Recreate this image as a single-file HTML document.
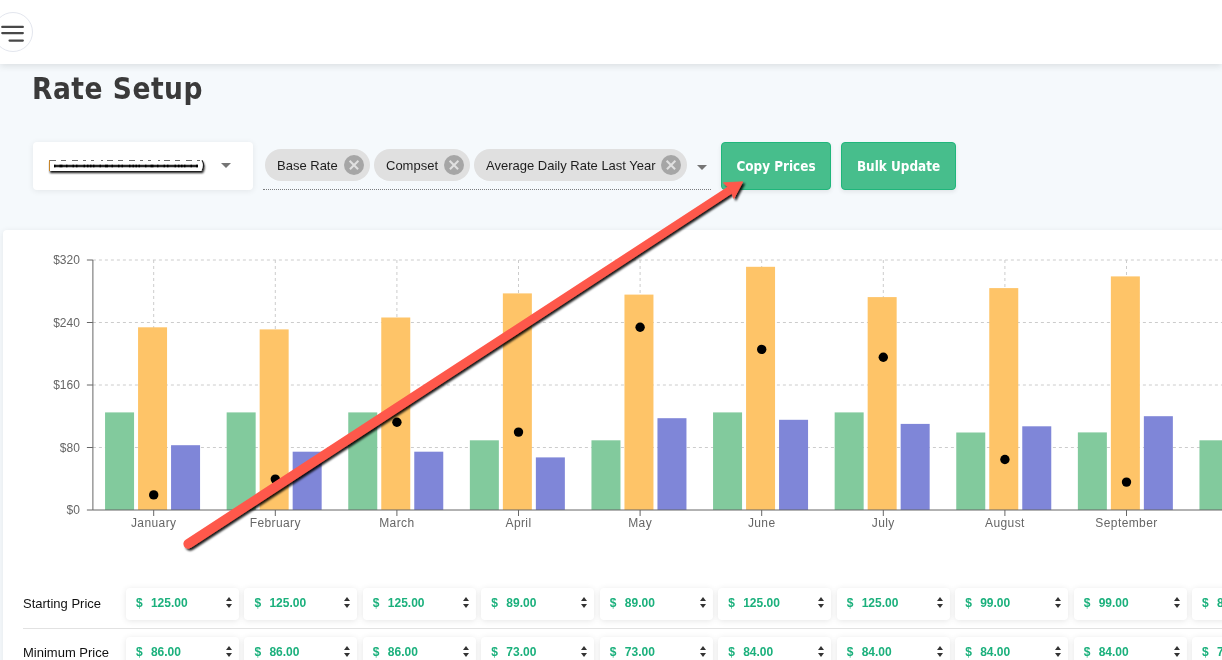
<!DOCTYPE html>
<html><head><meta charset="utf-8"><title>Rate Setup</title>
<style>
*{box-sizing:border-box;margin:0;padding:0}
html,body{width:1222px;height:660px;overflow:hidden}
body{background:#f5f9fc;font-family:"Liberation Sans",Arial,sans-serif;position:relative}
.hdr{position:absolute;left:0;top:0;width:1222px;height:64px;background:#fff;box-shadow:0 2px 7px rgba(0,0,0,0.11);z-index:2}
.burger{position:absolute;left:-7px;top:12px;width:40px;height:40px;border:1px solid #e3e6ee;border-radius:50%}
h1{position:absolute;left:32px;top:68.5px;font-family:"DejaVu Sans Condensed","DejaVu Sans",sans-serif;font-weight:bold;font-size:29.5px;line-height:40px;color:#3a3a3a;letter-spacing:0.5px}
.sel{position:absolute;left:33px;top:142px;width:220px;height:48px;background:#fff;border-radius:4px;box-shadow:0 1px 6px rgba(0,0,0,0.08)}
.caret{position:absolute;width:0;height:0;border-left:5px solid transparent;border-right:5px solid transparent;border-top:5px solid #757575}
.uline{position:absolute;left:263px;top:189px;width:448px;height:0;border-bottom:1px dotted rgba(0,0,0,0.5)}
.chip{position:absolute;top:149px;height:32px;border-radius:16px;background:#e0e0e0;font-size:13px;color:rgba(0,0,0,0.87);line-height:33px;padding-left:12px}
.chip .x{position:absolute;top:6px;width:20px;height:20px;border-radius:50%;background:#a6a6a6}
.chip .x:before,.chip .x:after{content:"";position:absolute;left:4px;top:9.2px;width:12px;height:1.6px;background:#e0e0e0;transform:rotate(45deg)}
.chip .x:after{transform:rotate(-45deg)}
.btn{position:absolute;top:142px;height:48px;background:#47be8c;border:1px solid #1fb67b;border-radius:4px;color:#fff;font-family:"DejaVu Sans Condensed","DejaVu Sans",sans-serif;font-weight:bold;font-size:13.4px;line-height:48.4px;text-align:center;box-shadow:0 2px 4px rgba(0,0,0,0.08)}
.card{position:absolute;left:3px;top:230px;width:1300px;height:500px;background:#fff;border-radius:4px;box-shadow:0 1px 6px rgba(0,0,0,0.08)}
.chart{position:absolute;left:0;top:0}
.tk{font-family:"Liberation Sans",sans-serif;font-size:12px;fill:#666}
.lbl{position:absolute;left:23px;font-size:13px;color:#111}
.hr{position:absolute;left:23px;top:628px;width:1300px;height:1px;background:#e2e2e2}
.inp{position:absolute;width:113px;height:32px;background:#fff;border-radius:4px;box-shadow:0 1px 6px rgba(0,0,0,0.10)}
.inp .cur{position:absolute;left:10px;top:8.5px;font-weight:bold;font-size:12px;color:#1bb07c;line-height:12px}
.inp .val{position:absolute;left:25px;top:8.5px;font-weight:bold;font-size:12px;color:#1bb07c;line-height:12px}
.spin{position:absolute;left:100px;top:8.5px;width:7px;height:14px}
.spin .up{position:absolute;left:0;top:0;border-left:3.5px solid transparent;border-right:3.5px solid transparent;border-bottom:4px solid #333}
.spin .dn{position:absolute;left:0;top:7px;border-left:3.5px solid transparent;border-right:3.5px solid transparent;border-top:4px solid #333}
.arrow{position:absolute;left:0;top:0;z-index:5}
</style></head>
<body>
<div class="hdr">
  <div class="burger"></div><svg style="position:absolute;left:0;top:0" width="40" height="60"><g stroke="#484848" stroke-width="2.1" stroke-linecap="round"><line x1="2.2" y1="26.9" x2="22.9" y2="26.9"/><line x1="2.2" y1="33.1" x2="22.9" y2="33.1"/><line x1="9.5" y1="40.6" x2="22.9" y2="40.6"/></g></svg>
</div>
<h1>Rate Setup</h1>
<div class="sel"><div class="caret" style="left:188px;top:21px"></div></div>
<svg style="position:absolute;left:0;top:0" width="260" height="200"><defs><filter id="rs" x="-5%" y="-50%" width="110%" height="200%"><feGaussianBlur in="SourceAlpha" stdDeviation="1"/><feOffset dx="0.6" dy="2.4"/><feComponentTransfer><feFuncA type="linear" slope="0.95"/></feComponentTransfer><feMerge><feMergeNode/><feMergeNode in="SourceGraphic"/></feMerge></filter></defs>
<g filter="url(#rs)"><path d="M49 160 H202 Q205 165.5 202 171 H49 Z" fill="#fff"/></g>
<path d="M202 160.3 Q205.2 165.5 202 170.8" fill="none" stroke="#222" stroke-width="1.2"/>
<line x1="50" y1="160.5" x2="202" y2="160.5" stroke="#3a3a3a" stroke-width="1" stroke-dasharray="6 5 5 6 6 5 3 5 3 7 2 4" opacity="0.75"/>
<line x1="54" y1="166" x2="198" y2="166" stroke="#262626" stroke-width="2.3"/><line x1="54" y1="166" x2="198" y2="166" stroke="#000" stroke-width="2.6" stroke-dasharray="1.5 4 3 3.5 1.5 5 1.5 2 1.5 6 1.5 2 1.5 1.5 1.5 1.5 1.5 5"/>
<line x1="49.5" y1="160" x2="49.5" y2="171" stroke="#c8862a" stroke-width="1"/>
</svg>
<div class="chip" style="left:265px;width:105px">Base Rate<span class="x" style="left:79px"></span></div>
<div class="chip" style="left:374px;width:96px">Compset<span class="x" style="left:70px"></span></div>
<div class="chip" style="left:474px;width:213px">Average Daily Rate Last Year<span class="x" style="left:187px"></span></div>
<div class="caret" style="left:697px;top:165px"></div>
<div class="uline"></div>
<div class="btn" style="left:721px;width:110px">Copy Prices</div>
<div class="btn" style="left:841px;width:115px">Bulk Update</div>
<div class="card"></div>
<svg class="chart" width="1222" height="660" viewBox="0 0 1222 660">
<line x1="92.9" y1="447.5" x2="1222" y2="447.5" stroke="#ccc" stroke-dasharray="3 3"/>
<line x1="92.9" y1="385.0" x2="1222" y2="385.0" stroke="#ccc" stroke-dasharray="3 3"/>
<line x1="92.9" y1="322.5" x2="1222" y2="322.5" stroke="#ccc" stroke-dasharray="3 3"/>
<line x1="92.9" y1="260.0" x2="1222" y2="260.0" stroke="#ccc" stroke-dasharray="3 3"/>
<line x1="153.7" y1="260.0" x2="153.7" y2="510.0" stroke="#ccc" stroke-dasharray="3 3"/>
<line x1="275.29999999999995" y1="260.0" x2="275.29999999999995" y2="510.0" stroke="#ccc" stroke-dasharray="3 3"/>
<line x1="396.9" y1="260.0" x2="396.9" y2="510.0" stroke="#ccc" stroke-dasharray="3 3"/>
<line x1="518.5" y1="260.0" x2="518.5" y2="510.0" stroke="#ccc" stroke-dasharray="3 3"/>
<line x1="640.0999999999999" y1="260.0" x2="640.0999999999999" y2="510.0" stroke="#ccc" stroke-dasharray="3 3"/>
<line x1="761.6999999999999" y1="260.0" x2="761.6999999999999" y2="510.0" stroke="#ccc" stroke-dasharray="3 3"/>
<line x1="883.3" y1="260.0" x2="883.3" y2="510.0" stroke="#ccc" stroke-dasharray="3 3"/>
<line x1="1004.9" y1="260.0" x2="1004.9" y2="510.0" stroke="#ccc" stroke-dasharray="3 3"/>
<line x1="1126.5" y1="260.0" x2="1126.5" y2="510.0" stroke="#ccc" stroke-dasharray="3 3"/>
<line x1="1248.1000000000001" y1="260.0" x2="1248.1000000000001" y2="510.0" stroke="#ccc" stroke-dasharray="3 3"/>
<rect x="105.06" y="412.4" width="29" height="97.60" fill="#82ca9d"/>
<rect x="138.06" y="327.3" width="29" height="182.70" fill="#fec468"/>
<rect x="171.06" y="445.2" width="29" height="64.80" fill="#7f86d8"/>
<rect x="226.66" y="412.4" width="29" height="97.60" fill="#82ca9d"/>
<rect x="259.66" y="329.4" width="29" height="180.60" fill="#fec468"/>
<rect x="292.66" y="451.7" width="29" height="58.30" fill="#7f86d8"/>
<rect x="348.26" y="412.4" width="29" height="97.60" fill="#82ca9d"/>
<rect x="381.26" y="317.5" width="29" height="192.50" fill="#fec468"/>
<rect x="414.26" y="451.7" width="29" height="58.30" fill="#7f86d8"/>
<rect x="469.86" y="440.3" width="29" height="69.70" fill="#82ca9d"/>
<rect x="502.86" y="293.4" width="29" height="216.60" fill="#fec468"/>
<rect x="535.86" y="457.4" width="29" height="52.60" fill="#7f86d8"/>
<rect x="591.46" y="440.3" width="29" height="69.70" fill="#82ca9d"/>
<rect x="624.46" y="294.6" width="29" height="215.40" fill="#fec468"/>
<rect x="657.46" y="418.2" width="29" height="91.80" fill="#7f86d8"/>
<rect x="713.06" y="412.4" width="29" height="97.60" fill="#82ca9d"/>
<rect x="746.06" y="266.8" width="29" height="243.20" fill="#fec468"/>
<rect x="779.06" y="419.8" width="29" height="90.20" fill="#7f86d8"/>
<rect x="834.66" y="412.4" width="29" height="97.60" fill="#82ca9d"/>
<rect x="867.66" y="297.1" width="29" height="212.90" fill="#fec468"/>
<rect x="900.66" y="423.9" width="29" height="86.10" fill="#7f86d8"/>
<rect x="956.26" y="432.5" width="29" height="77.50" fill="#82ca9d"/>
<rect x="989.26" y="288.1" width="29" height="221.90" fill="#fec468"/>
<rect x="1022.26" y="426.3" width="29" height="83.70" fill="#7f86d8"/>
<rect x="1077.86" y="432.4" width="29" height="77.60" fill="#82ca9d"/>
<rect x="1110.86" y="276.4" width="29" height="233.60" fill="#fec468"/>
<rect x="1143.86" y="416.2" width="29" height="93.80" fill="#7f86d8"/>
<rect x="1199.46" y="440.3" width="29" height="69.70" fill="#82ca9d"/>
<rect x="1232.46" y="300.0" width="29" height="210.00" fill="#fec468"/>
<rect x="1265.46" y="430.0" width="29" height="80.00" fill="#7f86d8"/>
<line x1="92.9" y1="260.0" x2="92.9" y2="510.0" stroke="#666"/>
<line x1="92.9" y1="510.0" x2="1222" y2="510.0" stroke="#666"/>
<line x1="86.9" y1="510.0" x2="92.9" y2="510.0" stroke="#666"/>
<text x="79.9" y="514.0" text-anchor="end" class="tk">$0</text>
<line x1="86.9" y1="447.5" x2="92.9" y2="447.5" stroke="#666"/>
<text x="79.9" y="451.5" text-anchor="end" class="tk">$80</text>
<line x1="86.9" y1="385.0" x2="92.9" y2="385.0" stroke="#666"/>
<text x="79.9" y="389.0" text-anchor="end" class="tk">$160</text>
<line x1="86.9" y1="322.5" x2="92.9" y2="322.5" stroke="#666"/>
<text x="79.9" y="326.5" text-anchor="end" class="tk">$240</text>
<line x1="86.9" y1="260.0" x2="92.9" y2="260.0" stroke="#666"/>
<text x="79.9" y="264.0" text-anchor="end" class="tk">$320</text>
<line x1="153.7" y1="510.0" x2="153.7" y2="516.0" stroke="#666"/>
<text x="153.7" y="518.0" dy="0.71em" text-anchor="middle" class="tk" letter-spacing="0.4">January</text>
<line x1="275.29999999999995" y1="510.0" x2="275.29999999999995" y2="516.0" stroke="#666"/>
<text x="275.29999999999995" y="518.0" dy="0.71em" text-anchor="middle" class="tk" letter-spacing="0.4">February</text>
<line x1="396.9" y1="510.0" x2="396.9" y2="516.0" stroke="#666"/>
<text x="396.9" y="518.0" dy="0.71em" text-anchor="middle" class="tk" letter-spacing="0.4">March</text>
<line x1="518.5" y1="510.0" x2="518.5" y2="516.0" stroke="#666"/>
<text x="518.5" y="518.0" dy="0.71em" text-anchor="middle" class="tk" letter-spacing="0.4">April</text>
<line x1="640.0999999999999" y1="510.0" x2="640.0999999999999" y2="516.0" stroke="#666"/>
<text x="640.0999999999999" y="518.0" dy="0.71em" text-anchor="middle" class="tk" letter-spacing="0.4">May</text>
<line x1="761.6999999999999" y1="510.0" x2="761.6999999999999" y2="516.0" stroke="#666"/>
<text x="761.6999999999999" y="518.0" dy="0.71em" text-anchor="middle" class="tk" letter-spacing="0.4">June</text>
<line x1="883.3" y1="510.0" x2="883.3" y2="516.0" stroke="#666"/>
<text x="883.3" y="518.0" dy="0.71em" text-anchor="middle" class="tk" letter-spacing="0.4">July</text>
<line x1="1004.9" y1="510.0" x2="1004.9" y2="516.0" stroke="#666"/>
<text x="1004.9" y="518.0" dy="0.71em" text-anchor="middle" class="tk" letter-spacing="0.4">August</text>
<line x1="1126.5" y1="510.0" x2="1126.5" y2="516.0" stroke="#666"/>
<text x="1126.5" y="518.0" dy="0.71em" text-anchor="middle" class="tk" letter-spacing="0.4">September</text>
<line x1="1248.1000000000001" y1="510.0" x2="1248.1000000000001" y2="516.0" stroke="#666"/>
<text x="1248.1000000000001" y="518.0" dy="0.71em" text-anchor="middle" class="tk" letter-spacing="0.4">October</text>
<circle cx="153.7" cy="494.9" r="4.7" fill="#000"/>
<circle cx="275.29999999999995" cy="479.1" r="4.7" fill="#000"/>
<circle cx="396.9" cy="422.3" r="4.7" fill="#000"/>
<circle cx="518.5" cy="432.1" r="4.7" fill="#000"/>
<circle cx="640.0999999999999" cy="327.3" r="4.7" fill="#000"/>
<circle cx="761.6999999999999" cy="349.4" r="4.7" fill="#000"/>
<circle cx="883.3" cy="357.2" r="4.7" fill="#000"/>
<circle cx="1004.9" cy="459.5" r="4.7" fill="#000"/>
<circle cx="1126.5" cy="482.1" r="4.7" fill="#000"/>
</svg>
<div class="lbl" style="top:595.5px">Starting Price</div>
<div class="hr"></div>
<div class="lbl" style="top:644.5px">Minimum Price</div>
<div class="inp" style="left:125.9px;top:588px"><span class="cur">$</span><span class="val">125.00</span><span class="spin"><i class="up"></i><i class="dn"></i></span></div>
<div class="inp" style="left:244.4px;top:588px"><span class="cur">$</span><span class="val">125.00</span><span class="spin"><i class="up"></i><i class="dn"></i></span></div>
<div class="inp" style="left:362.8px;top:588px"><span class="cur">$</span><span class="val">125.00</span><span class="spin"><i class="up"></i><i class="dn"></i></span></div>
<div class="inp" style="left:481.3px;top:588px"><span class="cur">$</span><span class="val">89.00</span><span class="spin"><i class="up"></i><i class="dn"></i></span></div>
<div class="inp" style="left:599.8px;top:588px"><span class="cur">$</span><span class="val">89.00</span><span class="spin"><i class="up"></i><i class="dn"></i></span></div>
<div class="inp" style="left:718.2px;top:588px"><span class="cur">$</span><span class="val">125.00</span><span class="spin"><i class="up"></i><i class="dn"></i></span></div>
<div class="inp" style="left:836.7px;top:588px"><span class="cur">$</span><span class="val">125.00</span><span class="spin"><i class="up"></i><i class="dn"></i></span></div>
<div class="inp" style="left:955.2px;top:588px"><span class="cur">$</span><span class="val">99.00</span><span class="spin"><i class="up"></i><i class="dn"></i></span></div>
<div class="inp" style="left:1073.7px;top:588px"><span class="cur">$</span><span class="val">99.00</span><span class="spin"><i class="up"></i><i class="dn"></i></span></div>
<div class="inp" style="left:1192.1px;top:588px"><span class="cur">$</span><span class="val">89.00</span><span class="spin"><i class="up"></i><i class="dn"></i></span></div>
<div class="inp" style="left:125.9px;top:637px"><span class="cur">$</span><span class="val">86.00</span><span class="spin"><i class="up"></i><i class="dn"></i></span></div>
<div class="inp" style="left:244.4px;top:637px"><span class="cur">$</span><span class="val">86.00</span><span class="spin"><i class="up"></i><i class="dn"></i></span></div>
<div class="inp" style="left:362.8px;top:637px"><span class="cur">$</span><span class="val">86.00</span><span class="spin"><i class="up"></i><i class="dn"></i></span></div>
<div class="inp" style="left:481.3px;top:637px"><span class="cur">$</span><span class="val">73.00</span><span class="spin"><i class="up"></i><i class="dn"></i></span></div>
<div class="inp" style="left:599.8px;top:637px"><span class="cur">$</span><span class="val">73.00</span><span class="spin"><i class="up"></i><i class="dn"></i></span></div>
<div class="inp" style="left:718.2px;top:637px"><span class="cur">$</span><span class="val">84.00</span><span class="spin"><i class="up"></i><i class="dn"></i></span></div>
<div class="inp" style="left:836.7px;top:637px"><span class="cur">$</span><span class="val">84.00</span><span class="spin"><i class="up"></i><i class="dn"></i></span></div>
<div class="inp" style="left:955.2px;top:637px"><span class="cur">$</span><span class="val">84.00</span><span class="spin"><i class="up"></i><i class="dn"></i></span></div>
<div class="inp" style="left:1073.7px;top:637px"><span class="cur">$</span><span class="val">84.00</span><span class="spin"><i class="up"></i><i class="dn"></i></span></div>
<div class="inp" style="left:1192.1px;top:637px"><span class="cur">$</span><span class="val">73.00</span><span class="spin"><i class="up"></i><i class="dn"></i></span></div>
<svg class="arrow" width="1222" height="660" viewBox="0 0 1222 660">
  <defs><filter id="sh" x="-10%" y="-10%" width="120%" height="120%"><feGaussianBlur in="SourceAlpha" stdDeviation="1.2"/><feOffset dx="1.6" dy="2.2" result="b"/><feFlood flood-color="#000" flood-opacity="0.9"/><feComposite in2="b" operator="in"/><feMerge><feMergeNode/><feMergeNode in="SourceGraphic"/></feMerge></filter></defs>
  <g filter="url(#sh)">
    <path d="M185.63 539.66 L727.62 186.82 L732.00 193.52 L190.99 547.87 A4.9 4.9 0 0 1 185.63 539.66 Z" fill="#fe594b"/>
    <polygon points="727.6,186.7 723.4,182.8 742.7,181.8 733.9,198.5 731.8,193.3" fill="#fe594b" stroke="#fe594b" stroke-width="0.8" stroke-linejoin="round"/>
  </g>
</svg>
</body></html>
